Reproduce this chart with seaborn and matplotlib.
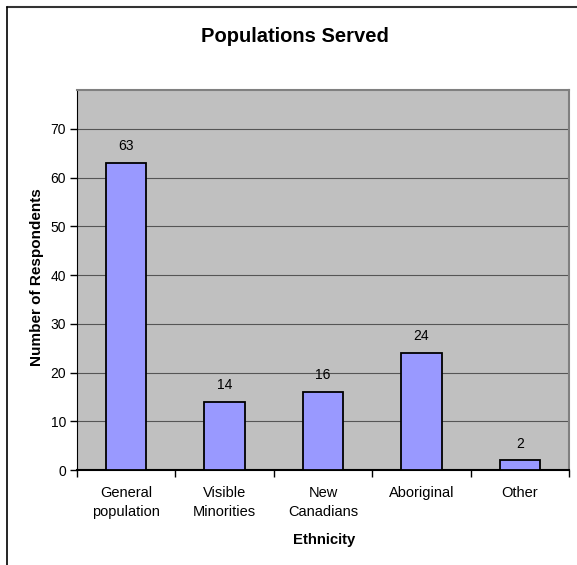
import matplotlib
matplotlib.use("Agg")
import matplotlib.pyplot as plt
import seaborn as sns
from matplotlib.lines import Line2D

categories = ["General\npopulation", "Visible\nMinorities", "New\nCanadians", "Aboriginal", "Other"]
respondents = [63, 14, 16, 24, 2]
yticks = [0, 10, 20, 30, 40, 50, 60, 70]

sns.set_style("white")
plt.rcParams['font.family'] = ['Liberation Sans', 'DejaVu Sans']
plt.rcParams['text.color'] = 'black'
plt.rcParams['xtick.color'] = 'black'
plt.rcParams['ytick.color'] = 'black'

fig = plt.figure(figsize=(5.77, 5.65), dpi=100)
ax = fig.add_axes([77/577, 1 - 470/565, 492/577, 380/565])
ax.set_facecolor('#C0C0C0')

sns.barplot(x=categories, y=respondents, color='#9999FF', edgecolor='black',
            linewidth=1.3, width=0.41, saturation=1, ax=ax, zorder=3)

ax.set_xlim(-0.5, len(categories) - 0.5)
ax.set_ylim(0, 78)
ax.set_yticks(yticks)
ax.yaxis.grid(True, color='#555555', linewidth=0.8, zorder=0)
ax.set_axisbelow(True)

for c in ax.containers:
    ax.bar_label(c, padding=7, fontsize=10)

for side in ['top', 'right']:
    ax.spines[side].set_color('#808080')
    ax.spines[side].set_linewidth(1.5)
ax.spines['left'].set_color('black')
ax.spines['bottom'].set_color('black')
ax.spines['bottom'].set_linewidth(1.5)

ax.tick_params(axis='y', left=True, length=5, width=1, labelsize=10, pad=3)
ax.tick_params(axis='x', bottom=False, labelsize=10.5, pad=8)
for lbl in ax.get_xticklabels():
    lbl.set_linespacing(1.45)
ax.set_xticks([i + 0.5 for i in range(-1, len(categories))], minor=True)
ax.tick_params(axis='x', which='minor', bottom=True, length=5, width=1)

ax.set_xlabel("")
ax.set_ylabel("")
fig.text(37/577, 1 - 277/565, "Number of Respondents", rotation=90, ha='center',
         va='center', fontsize=11, fontweight='bold')
fig.text(324/577, 1 - 544/565, "Ethnicity", ha='center', va='baseline',
         fontsize=10.7, fontweight='bold')
fig.text(295/577, 1 - 42/565, "Populations Served", ha='center', va='baseline',
         fontsize=14.5, fontweight='bold')

# outer chart frame (top and left edges visible)
fig.add_artist(Line2D([7/577, 1], [1 - 6.5/565, 1 - 6.5/565], color='#333333', linewidth=1.5))
fig.add_artist(Line2D([7/577, 7/577], [0, 1 - 6.5/565], color='black', linewidth=1.2))

fig.savefig("out.png", dpi=100)
